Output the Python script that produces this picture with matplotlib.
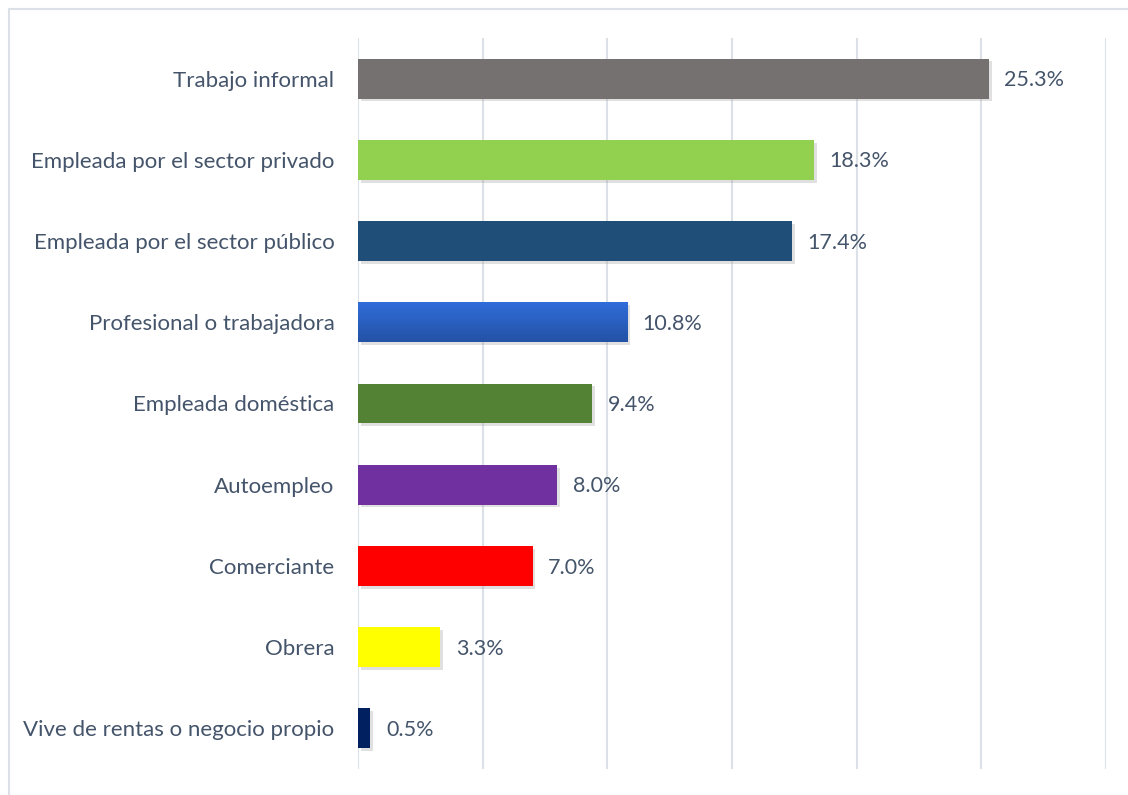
import matplotlib
matplotlib.use("Agg")
import matplotlib.pyplot as plt
import matplotlib.patheffects as pe
from matplotlib.patches import Rectangle
from matplotlib.colors import LinearSegmentedColormap
import numpy as np

categories = ["Trabajo informal", "Empleada por el sector privado", "Empleada por el sector público",
              "Profesional o trabajadora", "Empleada doméstica", "Autoempleo", "Comerciante",
              "Obrera", "Vive de rentas o negocio propio"]
values = [25.3, 18.3, 17.4, 10.8, 9.4, 8.0, 7.0, 3.3, 0.5]
colors = ["#767171", "#92D050", "#1F4E79", "#2B63CA", "#548235", "#7030A0", "#FF0000", "#FFFF00", "#002060"]
xticks = [0, 5, 10, 15, 20, 25, 30]

plt.rcParams['font.family'] = ['Lato', 'DejaVu Sans']
txt = "#44546A"
W, H = 1128, 795
fig = plt.figure(figsize=(W/100, H/100), dpi=100)
fig.patches.append(Rectangle((9/W, -0.1), 1.2, 1 - 9/H + 0.1, transform=fig.transFigure,
                             fill=False, edgecolor="#DCE1E8", linewidth=1.5))
ax = fig.add_axes([358/W, 1 - 769/H, (1106 - 358)/W, (769 - 38)/H])
y = list(range(len(categories)))
bh = 0.49
bars = ax.barh(y, values, height=bh, color=colors, zorder=3)
for b in bars:
    b.set_path_effects([pe.SimplePatchShadow(offset=(2, -2), shadow_rgbFace="#999999", alpha=0.3), pe.Normal()])
# gradient on the "Profesional" bar
gi = 3
grad = LinearSegmentedColormap.from_list("g", ["#2F6DD9", "#2452A6"])
im = ax.imshow(np.linspace(0, 1, 50).reshape(-1, 1), cmap=grad, aspect="auto",
               extent=(0, values[gi], gi + bh/2, gi - bh/2), zorder=3.5, interpolation="bilinear")
im.set_clip_path(bars[gi])
for yi, v in zip(y, values):
    ax.text(v + 0.62, yi + 0.02, f"{v:.1f}%", va="center", ha="left", fontsize=15.5, color=txt)
ax.set_xlim(0, 30)
ax.set_ylim(len(categories) - 0.5, -0.5)
ax.set_xticks(xticks)
ax.set_xticklabels([])
ax.tick_params(axis="x", length=0)
ax.tick_params(axis="y", length=0, pad=17)
ax.set_yticks(y)
ax.set_yticklabels(categories, fontsize=16, color=txt)
ax.grid(axis="x", color="#DCE1E8", linewidth=1.5, zorder=0)
for s in ax.spines.values():
    s.set_visible(False)
fig.savefig("out.png", dpi=100)
